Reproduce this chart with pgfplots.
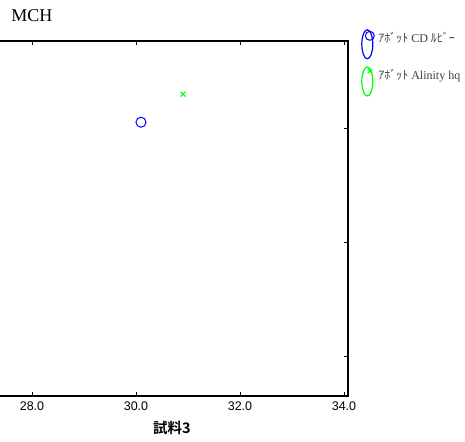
\documentclass[border=0pt]{standalone}
\usepackage{fontspec}
\setmainfont{Liberation Serif}
\newfontfamily\cjk{Noto Sans CJK JP}
\newfontfamily\cjkb{Noto Sans CJK JP}[BoldFont={* Bold}]
\newfontfamily\ticksf{Liberation Sans}
\usepackage{pgfplots}
\pgfplotsset{compat=1.18}
\begin{document}
\begin{tikzpicture}[x=1pt,y=1pt]
\begin{axis}[
  at={(348pt,400pt)}, anchor=north east,
  scale only axis, width=352.4pt, height=355pt,
  xmin=27.3, xmax=34.077, ymin=27.654, ymax=30.77,
  xtick={28,30,32,34}, ytick={28,29,30}, yticklabels={},
  tick align=inside, xtick pos=both, ytick pos=both,
  major tick length=4pt,
  axis line style={line width=1.2pt},
  every tick/.style={black, line width=0.8pt},
  /pgf/number format/assume math mode=true,
  xticklabel style={font=\ticksf\fontsize{12.5}{14}\selectfont, /pgf/number format/fixed, /pgf/number format/fixed zerofill, /pgf/number format/precision=1, yshift=-2pt},
  xlabel={\cjkb\bfseries 試料3}, xlabel style={font=\fontsize{14.5}{16}\selectfont, yshift=-4pt},
  title={MCH}, title style={font=\fontsize{18}{20}\selectfont, at={(0,1)}, anchor=base, xshift=36.4pt, yshift=13pt},
  legend style={at={(1,1)}, anchor=north west, xshift=13pt, yshift=12pt, draw=none, fill=none,
    font=\fontsize{12}{14}\selectfont\color{black!75}, row sep=7pt, inner sep=0pt,
    /tikz/every odd column/.append style={column sep=2pt}},
  legend cell align=left,
  clip=false,
]
\addplot[only marks, mark=o, draw=blue, mark size=5pt, line width=1pt,
  legend image code/.code={
    \draw[blue, line width=1.2pt] (0pt,-6.5pt) ellipse[x radius=5.5pt, y radius=14.5pt];
    \draw[only marks, mark=o, blue, mark size=4.5pt, line width=1pt] plot coordinates {(2.5pt,2pt)};
  }] coordinates {(30.096,30.057)};
\addlegendentry{{\cjk ｱﾎﾞｯﾄ} CD {\cjk ﾙﾋﾞｰ}}
\addplot[only marks, mark=x, draw=green, mark size=3.5pt, line width=1pt,
  legend image code/.code={
    \draw[green, line width=1.2pt] (0pt,-6.5pt) ellipse[x radius=5.5pt, y radius=14.5pt];
    \draw[only marks, mark=x, green, mark size=3pt, line width=1pt] plot coordinates {(2.5pt,4pt)};
  }] coordinates {(30.904,30.303)};
\addlegendentry{{\cjk ｱﾎﾞｯﾄ} Alinity hq}
\end{axis}
\pgfresetboundingbox
\path[use as bounding box] (0,0) rectangle (465,441);
\end{tikzpicture}
\end{document}
